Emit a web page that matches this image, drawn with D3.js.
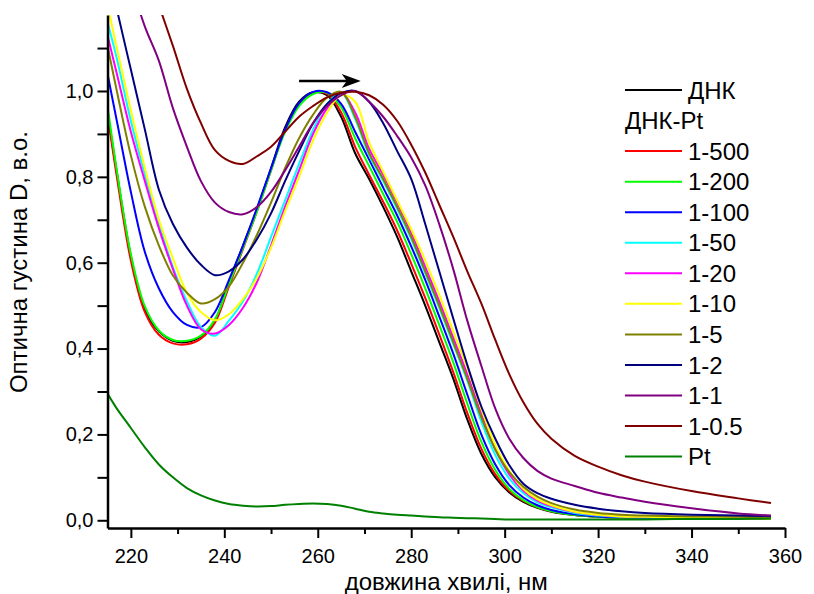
<!DOCTYPE html>
<html>
<head>
<meta charset="utf-8">
<script src="https://cdn.jsdelivr.net/npm/d3@7"></script>
<style>
body { margin: 0; background: #ffffff; }
svg { font-family: "Liberation Sans", Arial, sans-serif; }
</style>
</head>
<body>
<div id="chart"></div>
<script>
// wavelengths, nm
var wavelengths = [215, 217, 220, 223, 226, 229, 232, 235, 238, 241, 244, 247, 250, 253, 256, 259,
    262, 265, 268, 271, 274, 277, 280, 283, 286, 289, 292, 295, 298, 301, 304, 307, 310, 315,
    320, 325, 330, 340, 350, 357];

var dnk = [0.95, 0.81, 0.615, 0.49, 0.44, 0.418, 0.415, 0.428, 0.465, 0.555, 0.64, 0.725, 0.82, 0.915,
    0.975, 0.997, 0.99, 0.94, 0.855, 0.795, 0.73, 0.66, 0.58, 0.50, 0.415, 0.33, 0.235, 0.155, 0.10,
    0.065, 0.043, 0.029, 0.02, 0.012, 0.008, 0.006, 0.005, 0.005, 0.004, 0.004];
var r500 = [0.945, 0.80, 0.605, 0.485, 0.432, 0.412, 0.41, 0.423, 0.46, 0.545, 0.632, 0.72, 0.815, 0.91,
    0.97, 0.996, 0.993, 0.95, 0.87, 0.805, 0.742, 0.675, 0.598, 0.518, 0.433, 0.345, 0.25, 0.167, 0.107,
    0.068, 0.045, 0.03, 0.021, 0.012, 0.008, 0.006, 0.005, 0.005, 0.004, 0.004];
var r200 = [0.965, 0.815, 0.62, 0.498, 0.442, 0.42, 0.418, 0.43, 0.468, 0.55, 0.635, 0.72, 0.815, 0.905,
    0.965, 0.993, 0.996, 0.962, 0.89, 0.825, 0.76, 0.695, 0.62, 0.54, 0.455, 0.368, 0.272, 0.183, 0.117,
    0.073, 0.047, 0.031, 0.021, 0.012, 0.008, 0.006, 0.006, 0.005, 0.005, 0.005];
var r100 = [1.04, 0.93, 0.765, 0.625, 0.54, 0.485, 0.455, 0.45, 0.485, 0.56, 0.64, 0.728, 0.82, 0.91,
    0.972, 0.998, 0.997, 0.97, 0.905, 0.84, 0.775, 0.71, 0.638, 0.56, 0.475, 0.388, 0.293, 0.2, 0.13,
    0.082, 0.053, 0.035, 0.024, 0.014, 0.009, 0.007, 0.006, 0.006, 0.006, 0.006];
var r50 = [1.16, 1.075, 0.93, 0.805, 0.69, 0.59, 0.51, 0.45, 0.43, 0.465, 0.51, 0.575, 0.66, 0.745,
    0.83, 0.91, 0.97, 0.995, 0.935, 0.85, 0.79, 0.725, 0.655, 0.575, 0.495, 0.41, 0.325, 0.23, 0.152,
    0.097, 0.063, 0.042, 0.03, 0.017, 0.011, 0.008, 0.007, 0.006, 0.006, 0.006];
var r20 = [1.13, 1.04, 0.905, 0.79, 0.68, 0.585, 0.5, 0.445, 0.435, 0.455, 0.495, 0.555, 0.64, 0.73,
    0.815, 0.9, 0.96, 0.995, 0.95, 0.865, 0.805, 0.74, 0.67, 0.59, 0.51, 0.425, 0.34, 0.248, 0.165,
    0.107, 0.069, 0.046, 0.033, 0.019, 0.012, 0.009, 0.008, 0.007, 0.006, 0.006];
var r10 = [1.2, 1.1, 0.955, 0.82, 0.70, 0.61, 0.53, 0.485, 0.466, 0.48, 0.515, 0.565, 0.635, 0.72,
    0.80, 0.885, 0.95, 0.99, 0.975, 0.88, 0.812, 0.745, 0.678, 0.605, 0.525, 0.44, 0.355, 0.26, 0.175,
    0.115, 0.073, 0.049, 0.035, 0.02, 0.013, 0.009, 0.008, 0.006, 0.005, 0.004];
var r5 = [1.105, 1.0, 0.85, 0.73, 0.64, 0.57, 0.53, 0.505, 0.515, 0.545, 0.6, 0.665, 0.74, 0.82,
    0.89, 0.945, 0.985, 0.998, 0.94, 0.855, 0.795, 0.73, 0.66, 0.58, 0.50, 0.415, 0.33, 0.24, 0.165,
    0.112, 0.078, 0.055, 0.04, 0.025, 0.017, 0.013, 0.011, 0.009, 0.008, 0.007];
var r2 = [1.29, 1.19, 1.05, 0.91, 0.77, 0.69, 0.635, 0.595, 0.571, 0.58, 0.608, 0.655, 0.715, 0.79,
    0.86, 0.925, 0.97, 0.995, 1.0, 0.975, 0.925, 0.86, 0.795, 0.69, 0.58, 0.47, 0.362, 0.265, 0.19,
    0.128, 0.085, 0.063, 0.05, 0.036, 0.027, 0.021, 0.017, 0.013, 0.011, 0.01];
var r1 = [1.42, 1.35, 1.25, 1.15, 1.07, 0.96, 0.87, 0.79, 0.74, 0.718, 0.713, 0.73, 0.765, 0.815,
    0.87, 0.925, 0.965, 0.99, 1.0, 0.975, 0.94, 0.895, 0.845, 0.78, 0.69, 0.585, 0.465, 0.36, 0.26,
    0.19, 0.145, 0.115, 0.097, 0.08, 0.064, 0.053, 0.043, 0.028, 0.016, 0.011];
var r05 = [1.55, 1.49, 1.4, 1.3, 1.2, 1.105, 1.005, 0.925, 0.862, 0.837, 0.83, 0.848, 0.87, 0.905,
    0.94, 0.965, 0.985, 0.996, 0.998, 0.99, 0.968, 0.93, 0.875, 0.81, 0.735, 0.66, 0.58, 0.505, 0.42,
    0.34, 0.275, 0.225, 0.19, 0.15, 0.125, 0.105, 0.09, 0.068, 0.051, 0.04];
var pt = [0.295, 0.26, 0.215, 0.17, 0.13, 0.1, 0.075, 0.058, 0.046, 0.038, 0.034, 0.032, 0.033, 0.036,
    0.038, 0.039, 0.038, 0.034, 0.027, 0.02, 0.016, 0.013, 0.011, 0.009, 0.007, 0.006, 0.005, 0.004,
    0.003, 0.002, 0.002, 0.002, 0.002, 0.002, 0.002, 0.002, 0.002, 0.003, 0.003, 0.004];

var seriesNames = ["ДНК", "1-500", "1-200", "1-100", "1-50", "1-20", "1-10", "1-5", "1-2", "1-1", "1-0.5", "Pt"];
var seriesValues = [dnk, r500, r200, r100, r50, r20, r10, r5, r2, r1, r05, pt];
var seriesColors = ["#000000", "#ff0000", "#00ff00", "#0000ff", "#00ffff", "#ff00ff", "#ffff00",
    "#808000", "#000080", "#800080", "#800000", "#008000"];
var legendHeader = "ДНК-Pt";

var xMajorTicks = [220, 240, 260, 280, 300, 320, 340, 360];
var xMinorTicks = [230, 250, 270, 290, 310, 330, 350];
var yMajorTicks = [0, 0.2, 0.4, 0.6, 0.8, 1.0];
var yMinorTicks = [0.1, 0.3, 0.5, 0.7, 0.9, 1.1];

// shift arrow: [wavelength, D]
var arrowFrom = [256, 1.023];
var arrowTo = [269.2, 1.023];

var xLabel = "довжина хвилі, нм";
var yLabel = "Оптична густина D, в.о.";

var width = 814, height = 594;
var plot = { left: 107.5, right: 785, top: 15, bottom: 528 };

var svg = d3.select("#chart").append("svg")
    .attr("width", width)
    .attr("height", height);

var x = d3.scaleLinear().domain([215, 360]).range([plot.left, plot.right]);
var y = d3.scaleLinear().domain([-0.018, 1.177]).range([plot.bottom, plot.top]);

var commaFormat = function (d) {
    return d3.format(".1f")(d).replace(".", ",");
};

svg.append("clipPath")
    .attr("id", "plotClip")
    .append("rect")
    .attr("x", plot.left)
    .attr("y", plot.top)
    .attr("width", plot.right - plot.left)
    .attr("height", plot.bottom - plot.top);

// curves
var line = d3.line()
    .x(function (d) { return x(d[0]); })
    .y(function (d) { return y(d[1]); })
    .curve(d3.curveCatmullRom.alpha(0.5));

var curves = svg.append("g").attr("clip-path", "url(#plotClip)");
seriesValues.forEach(function (values, i) {
    var points = wavelengths.map(function (w, j) { return [w, values[j]]; });
    curves.append("path")
        .attr("d", line(points))
        .attr("fill", "none")
        .attr("stroke", seriesColors[i])
        .attr("stroke-width", 2)
        .attr("stroke-linejoin", "round");
});

// axes
function styleAxis(g) {
    g.select(".domain").attr("stroke", "#000").attr("stroke-width", 2.5);
    g.selectAll(".tick line").attr("stroke", "#000").attr("stroke-width", 2);
    g.selectAll(".tick text").attr("fill", "#000").style("font-size", "20px");
}

var xAxis = svg.append("g")
    .attr("transform", "translate(0," + plot.bottom + ")")
    .call(d3.axisBottom(x).tickValues(xMajorTicks).tickSize(10).tickSizeOuter(0).tickPadding(10.5));
styleAxis(xAxis);

svg.append("g")
    .attr("transform", "translate(0," + plot.bottom + ")")
    .call(d3.axisBottom(x).tickValues(xMinorTicks).tickSize(6).tickFormat(""))
    .call(function (g) {
        g.select(".domain").remove();
        g.selectAll(".tick line").attr("stroke", "#000").attr("stroke-width", 2);
    });

var yAxis = svg.append("g")
    .attr("transform", "translate(" + plot.left + ",0)")
    .call(d3.axisLeft(y).tickValues(yMajorTicks).tickSize(10).tickSizeOuter(0)
        .tickPadding(4).tickFormat(commaFormat));
styleAxis(yAxis);

svg.append("g")
    .attr("transform", "translate(" + plot.left + ",0)")
    .call(d3.axisLeft(y).tickValues(yMinorTicks).tickSize(10).tickFormat(""))
    .call(function (g) {
        g.select(".domain").remove();
        g.selectAll(".tick line").attr("stroke", "#000").attr("stroke-width", 2);
    });

// axis titles
svg.append("text")
    .attr("x", (plot.left + plot.right) / 2)
    .attr("y", 590)
    .attr("text-anchor", "middle")
    .style("font-size", "24px")
    .text(xLabel);

svg.append("text")
    .attr("transform", "translate(27," + 262 + ") rotate(-90)")
    .attr("text-anchor", "middle")
    .style("font-size", "24px")
    .text(yLabel);

// shift arrow
var ax0 = x(arrowFrom[0]), ax1 = x(arrowTo[0]), ay = y(arrowFrom[1]);
svg.append("line")
    .attr("x1", ax0).attr("y1", ay)
    .attr("x2", ax1 - 12).attr("y2", ay)
    .attr("stroke", "#000")
    .attr("stroke-width", 2.5);
svg.append("path")
    .attr("d", "M" + ax1 + "," + ay + "L" + (ax1 - 19) + "," + (ay - 7) +
        "L" + (ax1 - 14) + "," + ay + "L" + (ax1 - 19) + "," + (ay + 7) + "Z")
    .attr("fill", "#000");

// legend
var legend = svg.append("g");
var legendTop = 90, legendStep = 30.55;
var rows = [{ name: seriesNames[0], color: seriesColors[0] }, { name: legendHeader, color: null }];
for (var i = 1; i < seriesNames.length; i++) {
    rows.push({ name: seriesNames[i], color: seriesColors[i] });
}

rows.forEach(function (row, k) {
    var ly = legendTop + k * legendStep;
    if (row.color) {
        legend.append("line")
            .attr("x1", 625).attr("x2", 682)
            .attr("y1", ly).attr("y2", ly)
            .attr("stroke", row.color)
            .attr("stroke-width", 2);
        legend.append("text")
            .attr("x", 688).attr("y", ly)
            .attr("dy", "0.36em")
            .style("font-size", "24px")
            .text(row.name);
    } else {
        legend.append("text")
            .attr("x", 625).attr("y", ly)
            .attr("dy", "0.36em")
            .style("font-size", "24px")
            .text(row.name);
    }
});
</script>
</body>
</html>
